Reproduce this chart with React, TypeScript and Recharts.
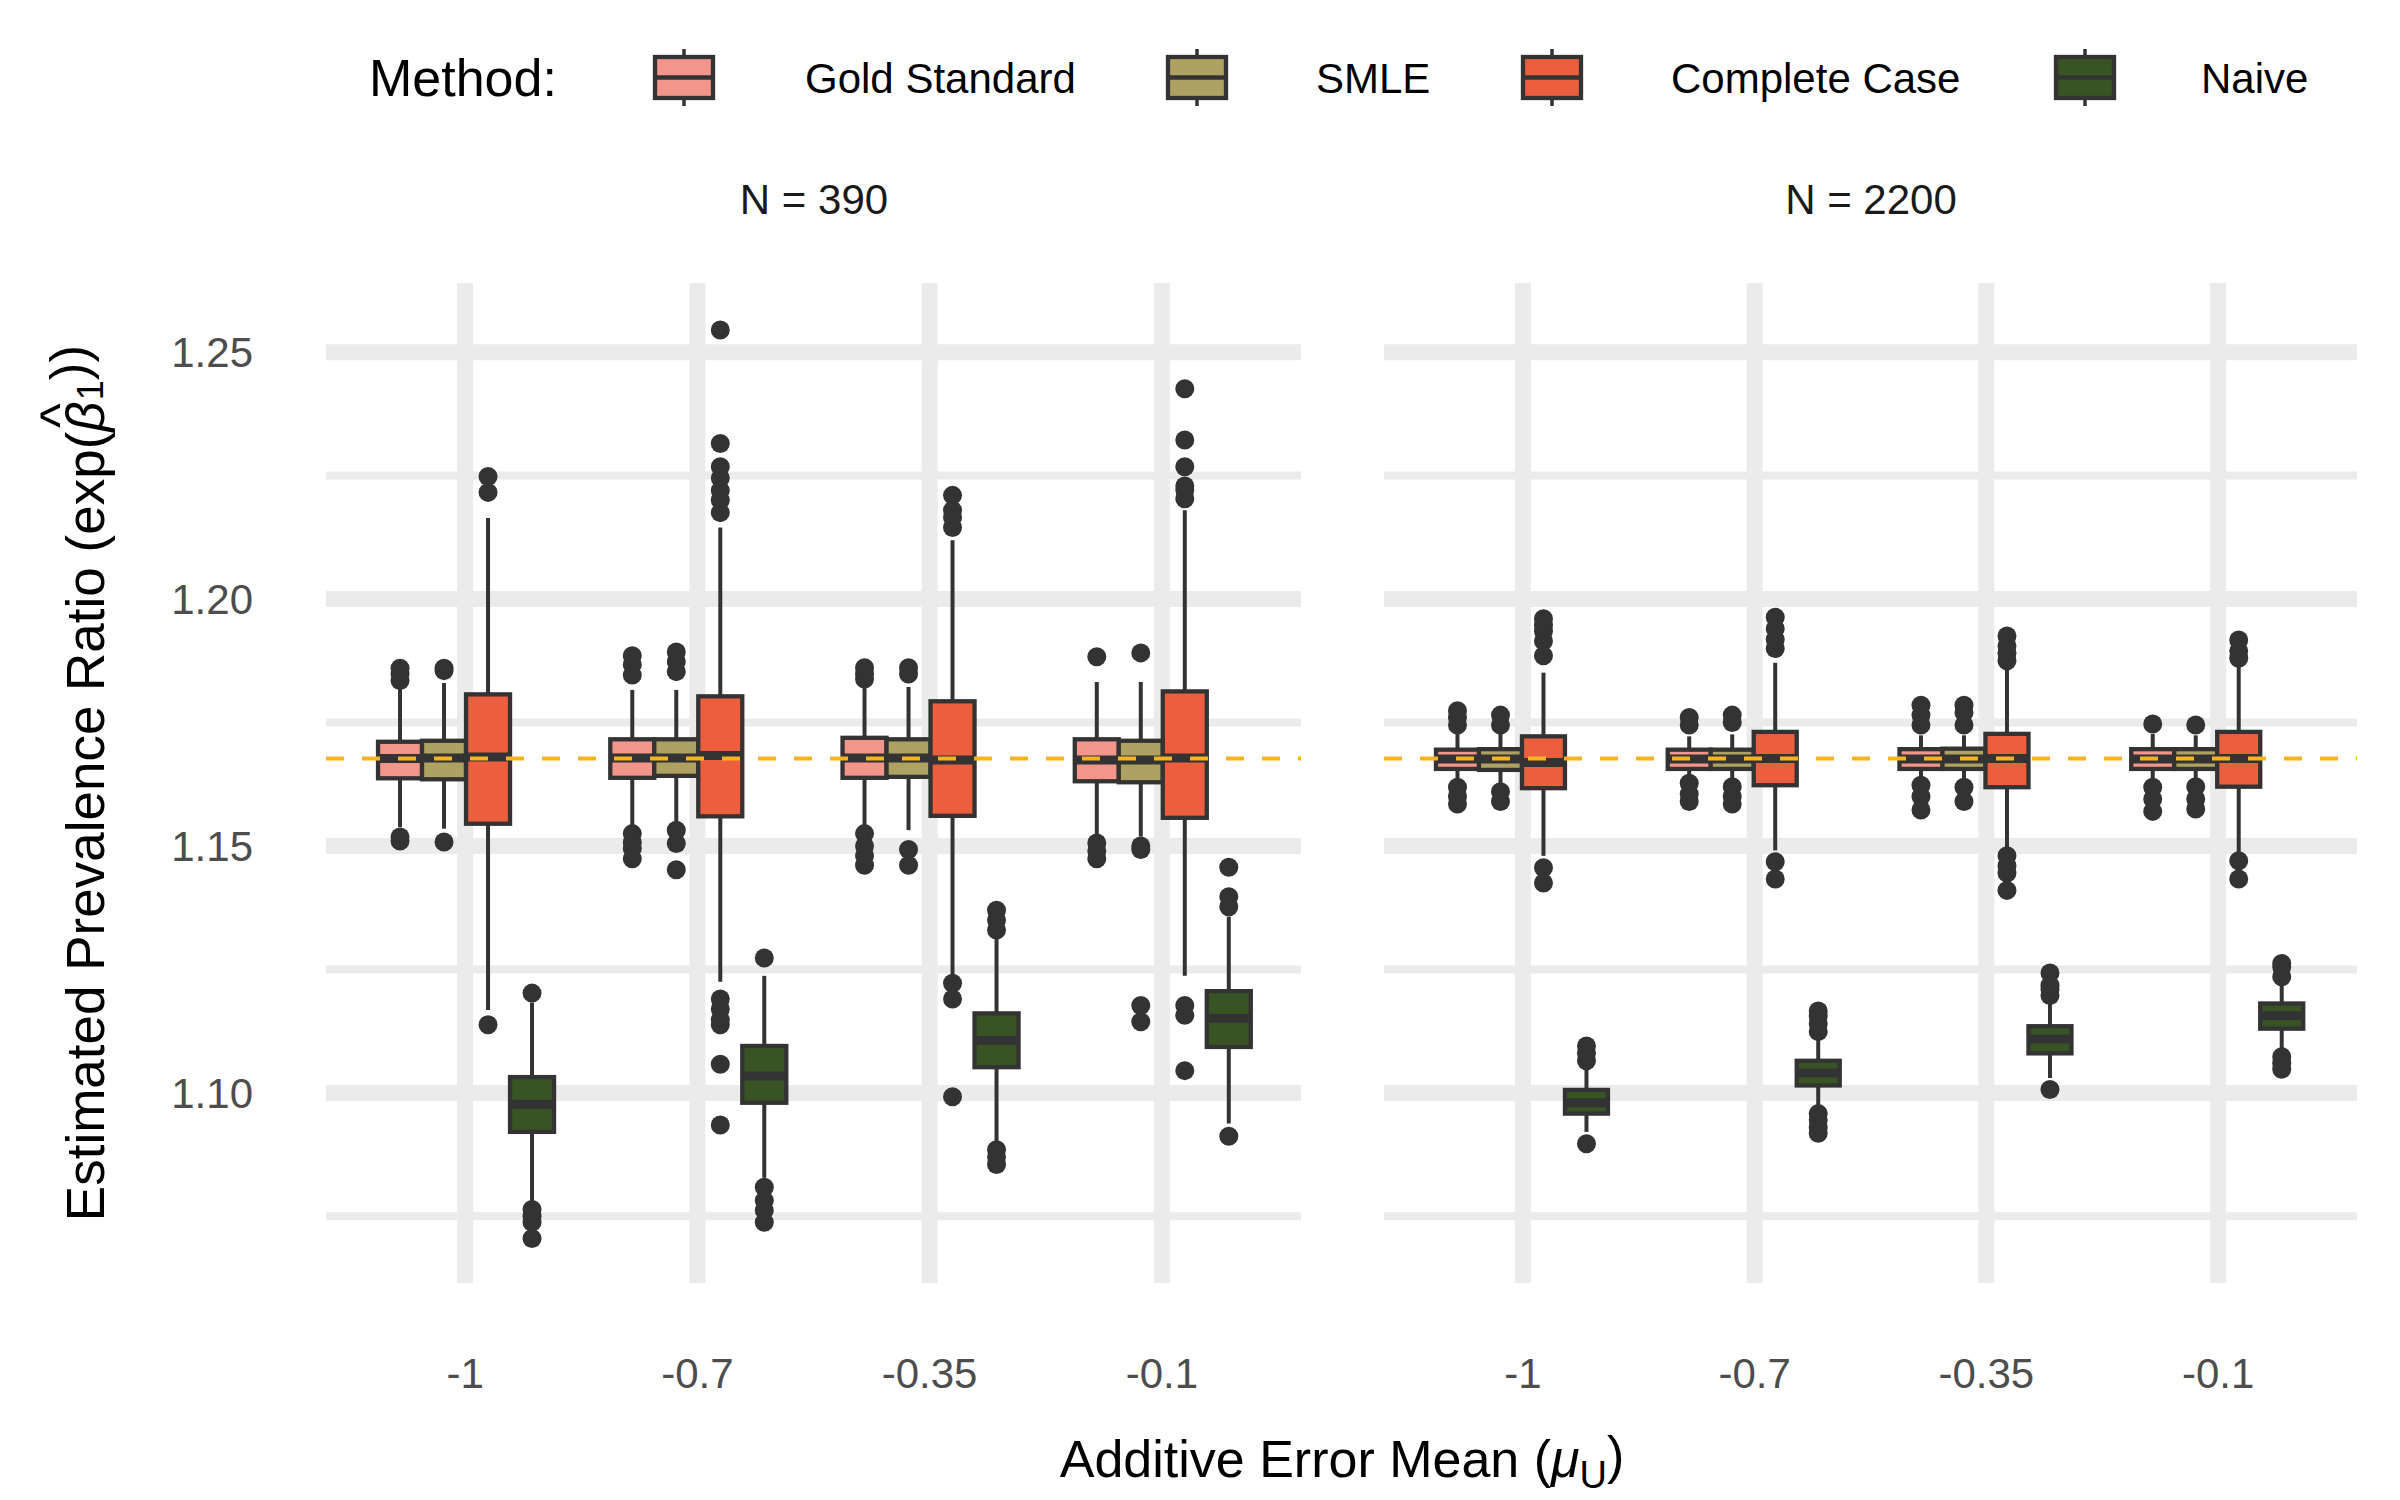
import React from "react";
import { ComposedChart, Bar, XAxis, YAxis, CartesianGrid, ReferenceLine } from "recharts";

const FONT = "'Liberation Sans', Arial, sans-serif";

const muLabels = ["-1", "-0.7", "-0.35", "-0.1"];
const methodNames = ["Gold Standard", "SMLE", "Complete Case", "Naive"];
const methodKeys = ["gold", "smle", "cc", "naive"];
const methodFill = ["#F2958B", "#AEA262", "#EB5F3F", "#395424"];

const trueRatio = 1.1677;
const majorTicks = [1.1, 1.15, 1.2, 1.25];
const minorTicks = [1.075, 1.125, 1.175, 1.225];
const yDomain = [1.0615, 1.264];

// each box: [lower whisker, q1, median, q3, upper whisker]
const gold390Box = [
  [1.1538, 1.1637, 1.1677, 1.1711, 1.1829],
  [1.1538, 1.1638, 1.1678, 1.1716, 1.1816],
  [1.1532, 1.1638, 1.1678, 1.1719, 1.1822],
  [1.1519, 1.1631, 1.1674, 1.1716, 1.1832],
];
const gold390Out = [
  [1.1835, 1.1848, 1.186, 1.1518, 1.151],
  [1.1846, 1.1867, 1.1885, 1.1525, 1.1507, 1.1495, 1.1474],
  [1.1838, 1.1848, 1.1861, 1.1525, 1.15, 1.148, 1.1461],
  [1.1883, 1.1506, 1.149, 1.1474],
];
const smle390Box = [
  [1.1535, 1.1635, 1.1678, 1.1713, 1.183],
  [1.1538, 1.1642, 1.1678, 1.1716, 1.1816],
  [1.1532, 1.164, 1.1678, 1.1716, 1.1822],
  [1.1519, 1.1629, 1.1674, 1.1713, 1.1832],
];
const smle390Out = [
  [1.1855, 1.186, 1.1508],
  [1.1853, 1.1873, 1.1893, 1.1532, 1.1505, 1.1452],
  [1.1848, 1.1861, 1.1493, 1.1461],
  [1.1891, 1.15, 1.1493, 1.1177, 1.1144],
];
const cc390Box = [
  [1.1168, 1.1545, 1.168, 1.1807, 1.2164],
  [1.1225, 1.156, 1.1683, 1.1803, 1.2145],
  [1.1237, 1.1561, 1.1674, 1.1793, 1.2119],
  [1.1237, 1.1557, 1.1678, 1.1813, 1.218],
];
const cc390Out = [
  [1.2216, 1.2248, 1.1138],
  [1.2545, 1.2315, 1.2268, 1.2245, 1.222, 1.22, 1.2175, 1.119, 1.117, 1.1148, 1.1138, 1.1058, 1.0935],
  [1.221, 1.218, 1.2165, 1.2145, 1.1222, 1.119, 1.0992],
  [1.2426, 1.2322, 1.2268, 1.2229, 1.2221, 1.2203, 1.1177, 1.1157, 1.1045],
];
const naive390Box = [
  [1.0776, 1.0921, 1.0977, 1.1032, 1.1183],
  [1.0828, 1.098, 1.1034, 1.1095, 1.1237],
  [1.0899, 1.1052, 1.1106, 1.1161, 1.1325],
  [1.0938, 1.1093, 1.1151, 1.1206, 1.1357],
];
const naive390Out = [
  [1.1202, 1.0764, 1.075, 1.0738, 1.0705],
  [1.1273, 1.0809, 1.0782, 1.0762, 1.0738],
  [1.137, 1.135, 1.133, 1.0885, 1.087, 1.0855],
  [1.1457, 1.1397, 1.1377, 1.0912],
];

const gold2200Box = [
  [1.1627, 1.1656, 1.1676, 1.1695, 1.1727],
  [1.1634, 1.1656, 1.1676, 1.1695, 1.1722],
  [1.1634, 1.1656, 1.1676, 1.1696, 1.1724],
  [1.1625, 1.1656, 1.1676, 1.1696, 1.1727],
];
const gold2200Out = [
  [1.1745, 1.176, 1.1774, 1.1619, 1.16, 1.1585],
  [1.1745, 1.176, 1.1627, 1.1605, 1.159],
  [1.1745, 1.1765, 1.1785, 1.1623, 1.16, 1.1573],
  [1.1747, 1.1619, 1.1595, 1.157],
];
const smle2200Box = [
  [1.1622, 1.1654, 1.1676, 1.1696, 1.1727],
  [1.1628, 1.1656, 1.1676, 1.1695, 1.1726],
  [1.1628, 1.1656, 1.1676, 1.1697, 1.1724],
  [1.1628, 1.1656, 1.1676, 1.1696, 1.1724],
];
const smle2200Out = [
  [1.1745, 1.1765, 1.161, 1.159],
  [1.175, 1.1765, 1.162, 1.16, 1.1585],
  [1.1745, 1.177, 1.1785, 1.1619, 1.159],
  [1.1745, 1.162, 1.1595, 1.1575],
];
const cc2200Box = [
  [1.148, 1.1617, 1.1669, 1.1722, 1.1851],
  [1.1491, 1.1623, 1.1677, 1.1731, 1.1871],
  [1.1483, 1.1619, 1.1677, 1.1727, 1.1859],
  [1.1481, 1.162, 1.1677, 1.1731, 1.1871],
];
const cc2200Out = [
  [1.1885, 1.1915, 1.1935, 1.1947, 1.196, 1.1456, 1.1425],
  [1.19, 1.1918, 1.194, 1.1963, 1.1468, 1.1433],
  [1.1875, 1.189, 1.1905, 1.1925, 1.148, 1.146, 1.1445, 1.141],
  [1.188, 1.1895, 1.1917, 1.147, 1.1433],
];
const naive2200Box = [
  [1.0921, 1.0958, 1.098, 1.1006, 1.1055],
  [1.0968, 1.1015, 1.104, 1.1065, 1.1107],
  [1.103, 1.108, 1.1109, 1.1135, 1.1189],
  [1.108, 1.113, 1.1156, 1.1181, 1.1228],
];
const naive2200Out = [
  [1.1065, 1.108, 1.1095, 1.0897],
  [1.1124, 1.114, 1.1155, 1.1166, 1.0958, 1.0945, 1.093, 1.0918],
  [1.1197, 1.121, 1.1218, 1.1243, 1.1007],
  [1.1235, 1.1255, 1.1262, 1.1073, 1.106, 1.1048],
];

type Stat = { box: number[]; out: number[] };

function buildRows(boxes: number[][][], outs: number[][][]) {
  return muLabels.map((mu, i) => {
    const row: any = { mu };
    methodKeys.forEach((k, m) => {
      row[k] = { box: boxes[m][i], out: outs[m][i] } as Stat;
    });
    return row;
  });
}

const rows390 = buildRows(
  [gold390Box, smle390Box, cc390Box, naive390Box],
  [gold390Out, smle390Out, cc390Out, naive390Out]
);
const rows2200 = buildRows(
  [gold2200Box, smle2200Box, cc2200Box, naive2200Box],
  [gold2200Out, smle2200Out, cc2200Out, naive2200Out]
);

function extentOf(s: Stat) {
  const all = s.box.concat(s.out);
  return [Math.min(...all), Math.max(...all)];
}

const DARK = "#333333";

function makeBoxShape(key: string, fill: string) {
  return (props: any) => {
    const { x, y, width, height, payload } = props;
    const s: Stat = payload[key];
    const [lo, hi] = extentOf(s);
    const top = Math.min(y, y + height);
    const bottom = Math.max(y, y + height);
    const py = (v: number) => bottom - ((v - lo) / (hi - lo)) * (bottom - top);
    const [wl, q1, med, q3, wh] = s.box;
    const cx = x + width / 2;
    return (
      <g>
        <line x1={cx} x2={cx} y1={py(wh)} y2={py(q3)} stroke={DARK} strokeWidth={4} />
        <line x1={cx} x2={cx} y1={py(q1)} y2={py(wl)} stroke={DARK} strokeWidth={4} />
        <rect x={x} y={py(q3)} width={width} height={py(q1) - py(q3)} fill={fill} stroke={DARK} strokeWidth={4.3} />
        <line x1={x} x2={x + width} y1={py(med)} y2={py(med)} stroke={DARK} strokeWidth={9} />
        {s.out.map((v, i) => (
          <circle key={i} cx={cx} cy={py(v)} r={9.5} fill={DARK} />
        ))}
      </g>
    );
  };
}

function Panel({ rows, showY, left, width }: { rows: any[]; showY: boolean; left: number; width: number }) {
  return (
    <div style={{ position: "absolute", left, top: 0 }}>
      <ComposedChart
        width={width}
        height={1500}
        data={rows}
        margin={{ top: 283, right: 0, bottom: 0, left: 0 }}
        barCategoryGap="12.5%"
        barGap={0}
      >
        <CartesianGrid horizontalValues={majorTicks} vertical syncWithTicks stroke="#EBEBEB" strokeWidth={16} />
        <CartesianGrid horizontalValues={minorTicks} vertical={false} syncWithTicks stroke="#EBEBEB" strokeWidth={8} />
        <XAxis
          dataKey="mu"
          type="category"
          height={217}
          padding={{ left: 23, right: 23 }}
          axisLine={false}
          tickLine={false}
          tickSize={0}
          tickMargin={75}
          interval={0}
          tick={{ fontSize: 42, fill: "#4D4D4D", fontFamily: FONT }}
        />
        <YAxis
          type="number"
          domain={yDomain}
          allowDataOverflow
          ticks={majorTicks}
          hide={!showY}
          width={showY ? 326 : 0}
          axisLine={false}
          tickLine={false}
          tickSize={0}
          tickMargin={73}
          tickFormatter={(v: number) => v.toFixed(2)}
          tick={{ fontSize: 42, fill: "#4D4D4D", fontFamily: FONT }}
        />
        {methodKeys.map((k, m) => (
          <Bar
            key={k}
            dataKey={(d: any) => extentOf(d[k])}
            fill={methodFill[m]}
            isAnimationActive={false}
            shape={makeBoxShape(k, methodFill[m])}
          />
        ))}
        <ReferenceLine y={trueRatio} stroke="#F8B31F" strokeWidth={4} strokeDasharray="18 18" />
      </ComposedChart>
    </div>
  );
}

const legendKeyX = [684, 1197, 1552, 2085];
const legendLabelX = [805, 1316, 1671, 2201];

function Overlay() {
  return (
    <svg width={2400} height={1500} style={{ position: "absolute", left: 0, top: 0, pointerEvents: "none" }} fontFamily={FONT}>
      <text x={369} y={96} fontSize={52} fill="#000">Method:</text>
      {methodNames.map((n, i) => (
        <g key={n}>
          <line x1={legendKeyX[i]} x2={legendKeyX[i]} y1={49} y2={106} stroke={DARK} strokeWidth={3.5} />
          <rect x={legendKeyX[i] - 29} y={57} width={58} height={41} fill={methodFill[i]} stroke={DARK} strokeWidth={4.3} />
          <line x1={legendKeyX[i] - 29} x2={legendKeyX[i] + 29} y1={77.5} y2={77.5} stroke={DARK} strokeWidth={4.5} />
          <text x={legendLabelX[i]} y={93} fontSize={42} fill="#000">{n}</text>
        </g>
      ))}
      <text x={814} y={214} fontSize={42} fill="#1A1A1A" textAnchor="middle">N = 390</text>
      <text x={1871} y={214} fontSize={42} fill="#1A1A1A" textAnchor="middle">N = 2200</text>
      <text transform="translate(104,783) rotate(-90)" fontSize={53} fill="#000" textAnchor="middle">
        Estimated Prevalence Ratio (exp(
        <tspan fontStyle="italic">β</tspan>
        <tspan dx="-0.5em" dy="-0.5em">^</tspan>
        <tspan dx="0.08em" dy="0.7em" fontSize={36}>1</tspan>
        <tspan dy="-0.28em">))</tspan>
      </text>
      <text x={1342} y={1477} fontSize={52} fill="#000" textAnchor="middle">
        Additive Error Mean (<tspan fontStyle="italic">μ</tspan>
        <tspan dy="0.3em" fontSize={38}>U</tspan>
        <tspan dy="-0.3em">)</tspan>
      </text>
    </svg>
  );
}

export default function App() {
  return (
    <div style={{ position: "absolute", left: 0, top: 0, width: 2400, height: 1500, background: "#fff", fontFamily: FONT }}>
      <Panel rows={rows390} showY left={0} width={1301} />
      <Panel rows={rows2200} showY={false} left={1384} width={973} />
      <Overlay />
    </div>
  );
}
